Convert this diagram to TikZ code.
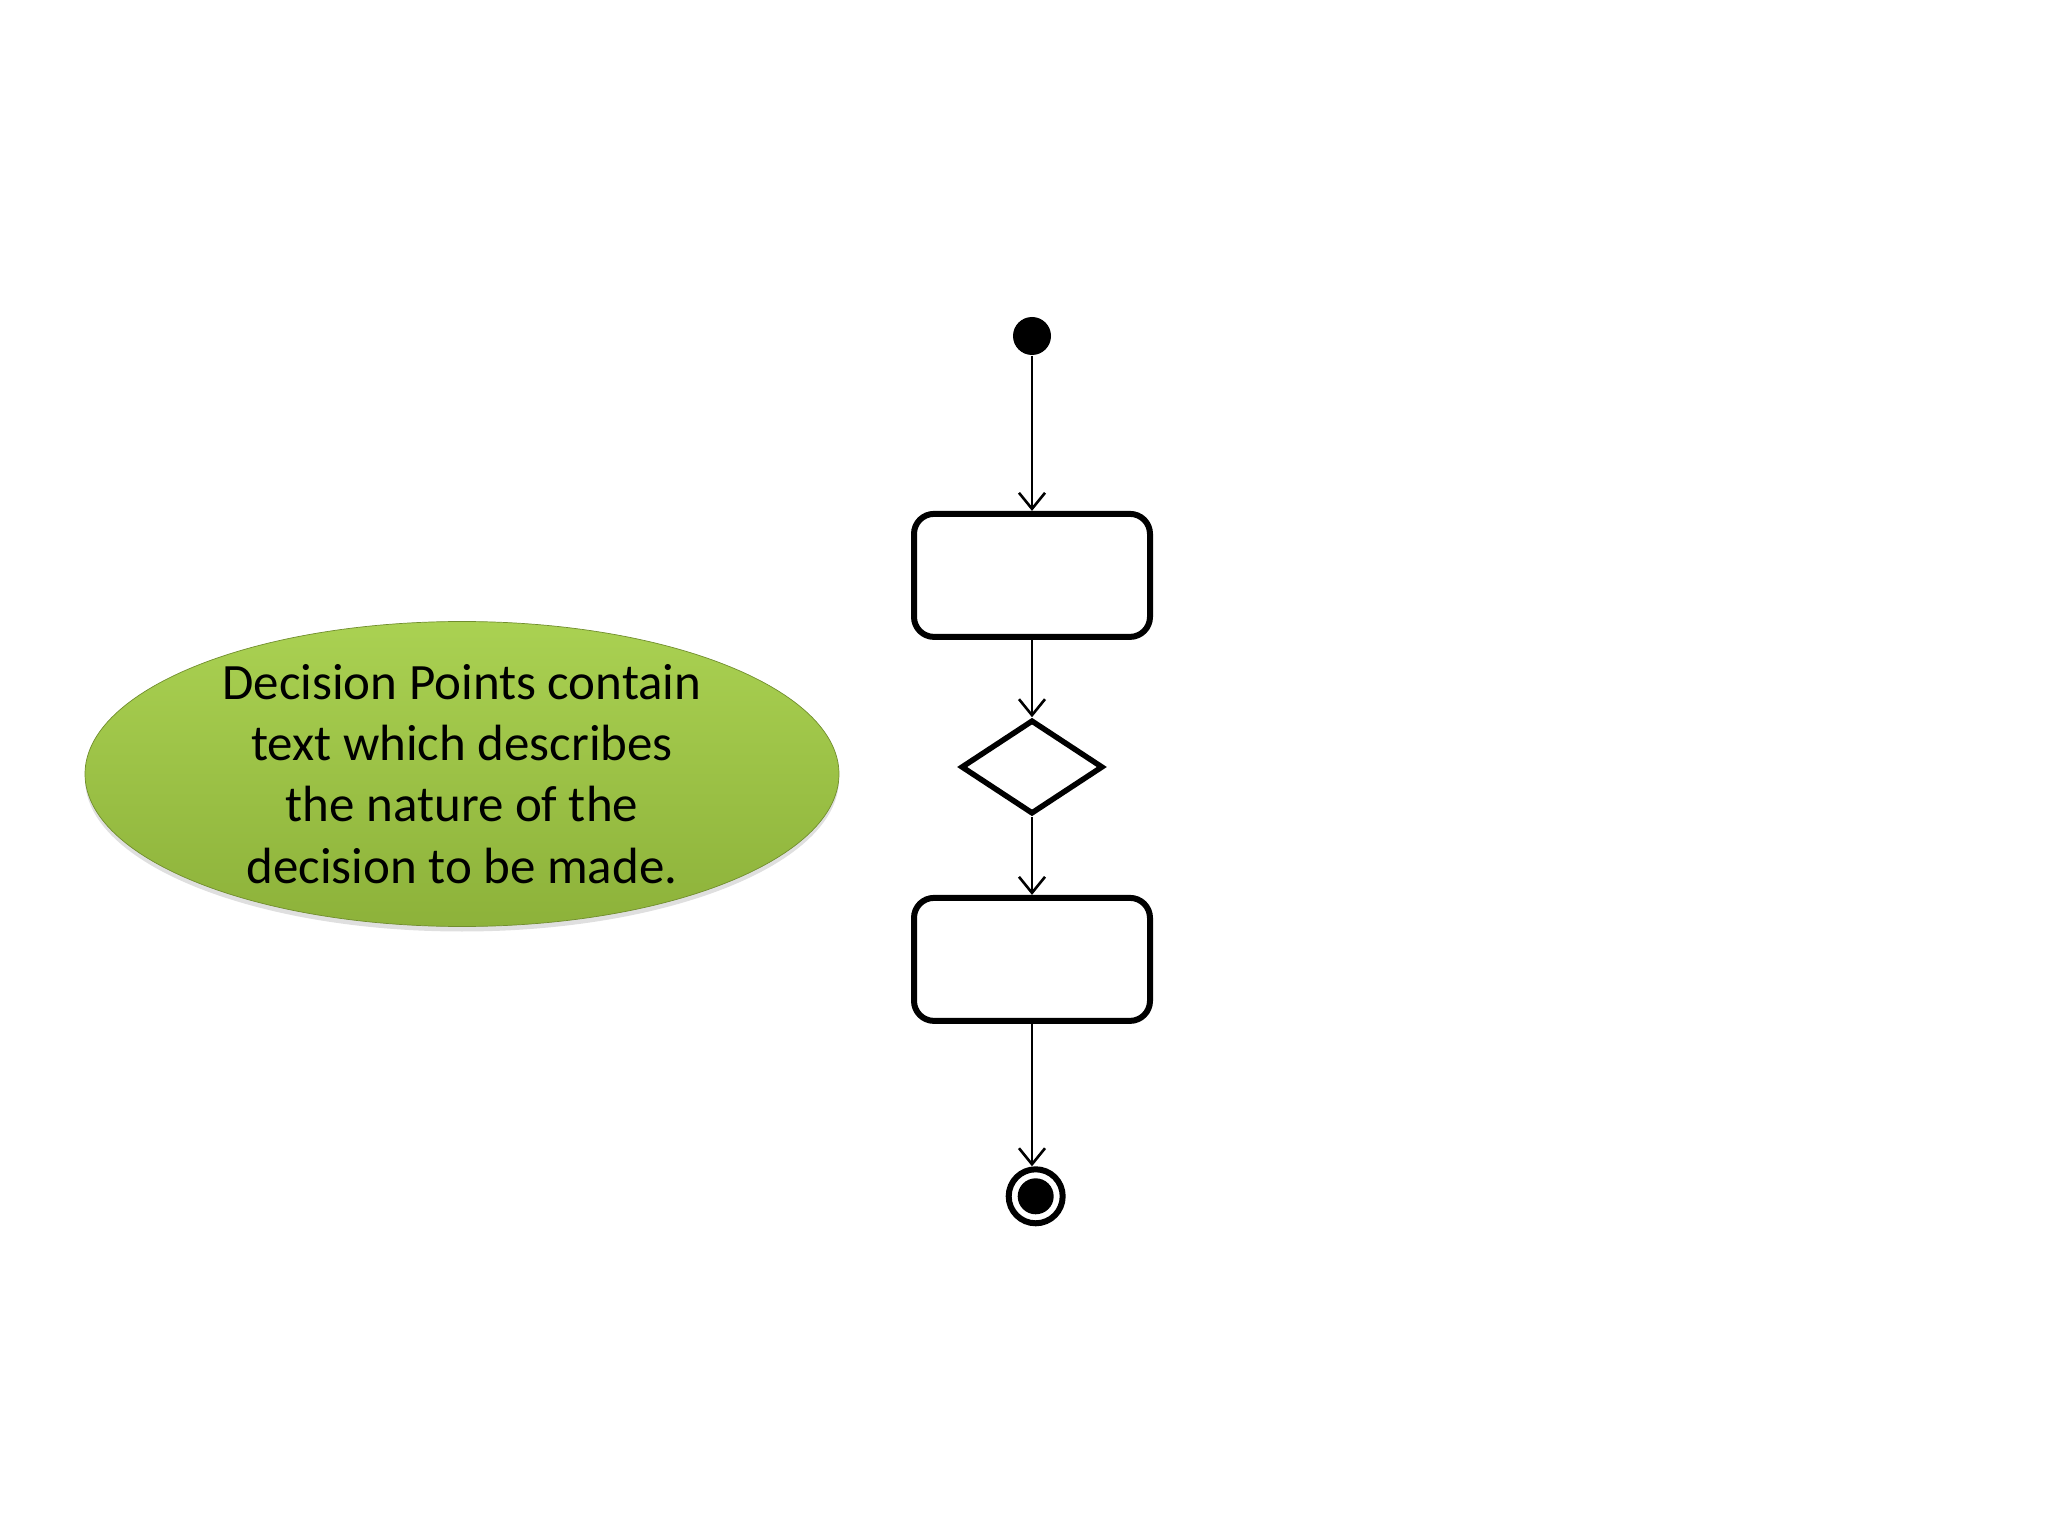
\documentclass[tikz,border=0pt]{standalone}
\usepackage{fontspec}
\setmainfont{Carlito}
\usetikzlibrary{shapes.geometric,arrows.meta,shadows}

\definecolor{notetop}{HTML}{AAD152}
\definecolor{notebottom}{HTML}{8DB23A}

\begin{document}
\begin{tikzpicture}[
		flow/.style={-{Straight Barb[length=0.16cm,width=0.26cm]}, line width=0.026cm},
		activity/.style={draw, line width=0.06cm, rounded corners=0.2cm, minimum width=2.36cm, minimum height=1.23cm},
		decision/.style={draw, diamond, line width=0.055cm, inner sep=0pt, minimum width=1.42cm, minimum height=0.94cm},
		startdot/.style={circle, fill=black, inner sep=0pt, minimum size=0.38cm},
		endring/.style={circle, draw, line width=0.06cm, inner sep=0pt, minimum size=0.54cm},
		enddot/.style={circle, fill=black, inner sep=0pt, minimum size=0.36cm},
		note/.style={ellipse, top color=notetop, bottom color=notebottom, draw=notebottom!80!black, line width=0.2pt,
			inner xsep=0pt, inner ysep=-0.15cm, minimum width=7.54cm, minimum height=3.05cm, align=center,
			font=\fontsize{14.5}{17.4}\selectfont,
			drop shadow={opacity=0.25, shadow xshift=0pt, shadow yshift=-0.05cm}}
	]
		\useasboundingbox (0,0) rectangle (20.48,-15.36);

		\node[startdot] (start) at (10.32,-3.36) {};
		\node[activity] (act1) at (10.32,-5.754) {};
		\node[decision] (dec) at (10.32,-7.67) {};
		\node[activity] (act2) at (10.32,-9.594) {};
		\node[endring] (stop) at (10.357,-11.963) {};
		\node[enddot] (stopdot) at (stop) {};

		\draw[flow] (start) -- (act1);
		\draw[flow] (act1) -- (dec);
		\draw[flow] (dec) -- (act2);
		\draw[flow] (act2.south) -- (act2.south |- stop.north);

		\node[note] (hint) at (4.62,-7.74) {Decision Points contain\\text which describes\\the nature of the\\decision to be made.};

	\end{tikzpicture}
\end{document}
